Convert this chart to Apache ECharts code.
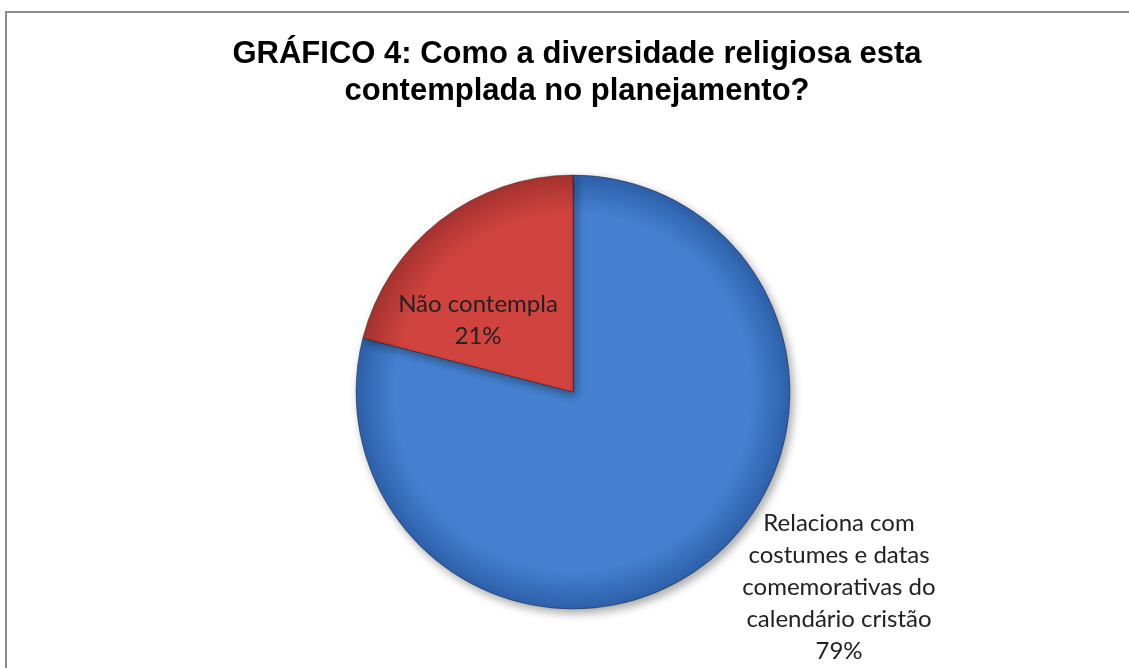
<!DOCTYPE html>
<html>
<head>
<meta charset="utf-8">
<title>Gráfico 4</title>
<script src="https://cdn.jsdelivr.net/npm/echarts@6/dist/echarts.min.js"></script>
<style>
  html, body { margin: 0; padding: 0; background: #fff; }
  #chart { width: 1129px; height: 668px; }
</style>
</head>
<body>
<div id="chart"></div>
<script>
const titleText = "GRÁFICO 4: Como a diversidade religiosa esta\ncontemplada no planejamento?";
const categories = [
  "Relaciona com\ncostumes e datas\ncomemorativas do\ncalendário cristão",
  "Não contempla"
];
const values = [79, 21];

const cx = 573, cy = 392, r = 217;

// radial shading like the Excel 2007 style
const shade = (inner, outer) => ({
  type: "radial",
  x: cx, y: cy, r: r,
  global: true,
  colorStops: [
    { offset: 0, color: inner },
    { offset: 0.82, color: inner },
    { offset: 1, color: outer },
  ],
});
const colors = [shade("#4581d0", "#2e60aa"), shade("#d0433e", "#a63330")];

const chart = echarts.init(document.getElementById("chart"));

const option = {
  backgroundColor: "#fff",
  animation: false,
  title: {
    text: titleText,
    left: 572,
    top: 31,
    textAlign: "center",
    textStyle: {
      fontFamily: "Liberation Sans",
      fontWeight: "bold",
      fontSize: 31,
      lineHeight: 37,
      color: "#000",
    },
  },
  graphic: [
    {
      type: "rect",
      shape: { x: 6, y: 12, width: 1200, height: 720 },
      style: { fill: null, stroke: "#8c8c8c", lineWidth: 2 },
      z: 100,
    },
  ],
  series: [
    {
      type: "pie",
      center: [cx, cy],
      radius: [0, r],
      startAngle: 90,
      clockwise: true,
      itemStyle: {
        borderColor: "rgba(0,0,0,0.35)",
        borderWidth: 1,
        shadowBlur: 10,
        shadowOffsetX: 3,
        shadowOffsetY: 4,
        shadowColor: "rgba(0,0,0,0.35)",
      },
      label: {
        show: true,
        fontFamily: "Lato",
        fontSize: 24,
        lineHeight: 32,
        color: "#222",
        align: "center",
        formatter: (p) => p.name + "\n" + p.value + "%",
      },
      labelLine: { show: false },
      labelLayout: (p) =>
        p.dataIndex === 0
          ? { x: 839, y: 587, align: "center", verticalAlign: "middle" }
          : { x: 478, y: 320, align: "center", verticalAlign: "middle" },
      data: categories.map((name, i) => ({
        name: name,
        value: values[i],
        itemStyle: { color: colors[i] },
      })),
    },
  ],
};

chart.setOption(option);
</script>
</body>
</html>
